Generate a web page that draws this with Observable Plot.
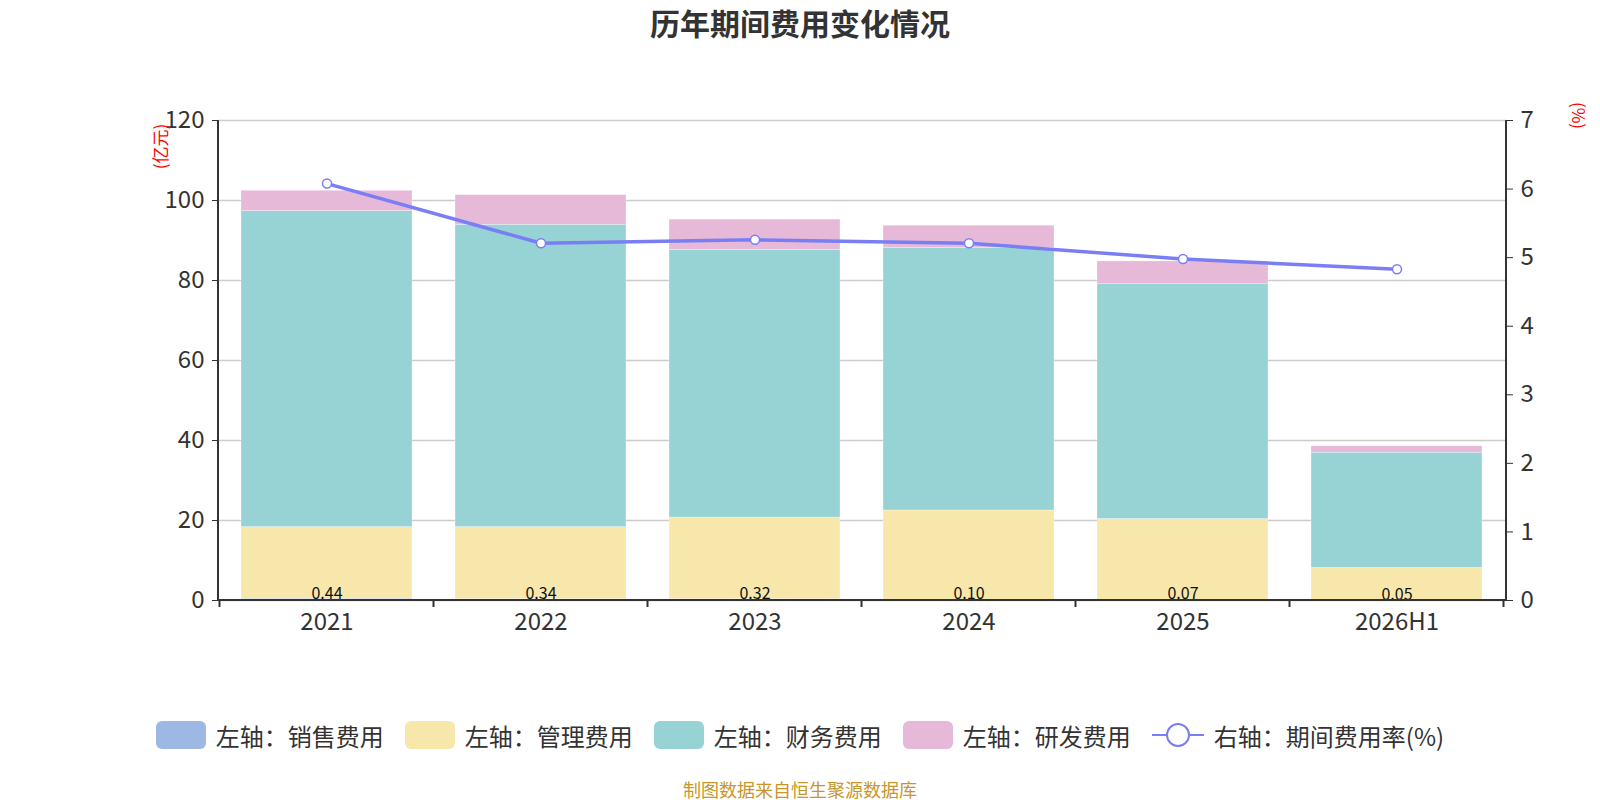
<!DOCTYPE html>
<html>
<head>
<meta charset="utf-8">
<script src="https://cdn.jsdelivr.net/npm/d3@7"></script>
<script src="https://cdn.jsdelivr.net/npm/@observablehq/plot@0.6"></script>
<style>
body{margin:0;background:#fff;font-family:"Noto Sans CJK SC","Noto Sans",sans-serif;}
#title{height:45px;line-height:45px;text-align:center;font-weight:bold;font-size:30px;color:#333;}
#chart svg{display:block;}
#legend{margin-top:71px;height:28px;display:flex;justify-content:center;align-items:center;gap:21px;font-size:24px;color:#333;}
.item{display:flex;align-items:center;gap:10px;}
.sw{width:50px;height:28px;border-radius:6px;}
#caption{margin-top:29px;text-align:center;font-size:18px;line-height:22px;color:#c8962a;}
</style>
</head>
<body>
<div id="title">历年期间费用变化情况</div>
<div id="chart"></div>
<div id="legend"></div>
<div id="caption">制图数据来自恒生聚源数据库</div>
<script>
const categories = ["2021","2022","2023","2024","2025","2026H1"];
const salesExp = [0.44,0.34,0.32,0.10,0.07,0.05];
const adminExp = [17.9,18.0,20.4,22.4,20.3,8.1];
const financeExp = [79.0,75.6,66.9,65.6,58.7,28.8];
const rndExp = [5.1,7.4,7.6,5.6,5.7,1.6];
const expenseRate = [6.08,5.21,5.26,5.21,4.98,4.83];
const seriesNames = ["左轴：销售费用","左轴：管理费用","左轴：财务费用","左轴：研发费用"];
const seriesColors = ["#9db8e2","#f8e7aa","#97d3d4","#e6b9d8"];
const lineName = "右轴：期间费用率(%)";
const lineColor = "#7a7ef5";
const leftTicks = [0,20,40,60,80,100,120];
const rightTicks = [0,1,2,3,4,5,6,7];

const leftMax = leftTicks[leftTicks.length-1];
const rightMax = rightTicks[rightTicks.length-1];
const k = leftMax / rightMax;

const seriesValues = [salesExp, adminExp, financeExp, rndExp];
const barData = [];
seriesNames.forEach((s, si) => {
  categories.forEach((c, ci) => barData.push({cat: c, series: s, value: seriesValues[si][ci]}));
});
const lineData = categories.map((c, i) => ({cat: c, rate: expenseRate[i]}));
const salesData = categories.map((c, i) => ({cat: c, v: salesExp[i]}));

function frameLines(index, scales, values, dim) {
  const ns = "http://www.w3.org/2000/svg";
  const g = document.createElementNS(ns, "g");
  const x = scales.x;
  const left = dim.marginLeft, right = dim.width - dim.marginRight;
  const top = dim.marginTop, bottom = dim.height - dim.marginBottom;
  const add = (x1,y1,x2,y2) => {
    const l = document.createElementNS(ns, "line");
    l.setAttribute("x1",x1);l.setAttribute("y1",y1);l.setAttribute("x2",x2);l.setAttribute("y2",y2);
    l.setAttribute("stroke","#333");l.setAttribute("stroke-width","2");
    g.appendChild(l);
  };
  add(left, top, left, bottom+1);
  add(right, top, right, bottom+1);
  add(left, bottom, right, bottom);
  const step = x.step ? x.step() : (x(categories[1]) - x(categories[0]));
  const bw = x.bandwidth ? x.bandwidth() : 0;
  categories.forEach(c => {
    const bx = x(c) + bw/2 - step/2;
    add(bx, bottom, bx, bottom+7);
  });
  const last = x(categories[categories.length-1]) + bw/2 + step/2;
  add(last, bottom, last, bottom+7);
  return g;
}

const plot = Plot.plot({
  width: 1600,
  height: 605,
  marginTop: 75,
  marginBottom: 50,
  marginLeft: 218,
  marginRight: 94,
  style: {fontFamily: '"Noto Sans CJK SC","Noto Sans",sans-serif', color: "#333", background: "#fff"},
  x: {domain: categories, paddingInner: 0.2, paddingOuter: 0.1, label: null},
  y: {domain: [0, leftMax], label: null},
  color: {domain: seriesNames, range: seriesColors},
  marks: [
    Plot.gridY(leftTicks, {stroke: "#ccc", strokeOpacity: 1, strokeWidth: 1.5}),
    Plot.barY(barData, {x: "cat", y: "value", fill: "series", stroke: "#fff", strokeOpacity: 0.5, strokeWidth: 0.6}),
    Plot.text(salesData, {x: "cat", y: d => d.v / 2, text: d => d.v.toFixed(2), fontSize: 16, dy: -6, fill: "#111", clip: true}),
    Plot.line(lineData, {x: "cat", y: d => d.rate * k, stroke: lineColor, strokeWidth: 3.5}),
    Plot.dot(lineData, {x: "cat", y: d => d.rate * k, r: 4.5, fill: "#fff", stroke: lineColor, strokeWidth: 1.5}),
    Plot.axisY(leftTicks, {anchor: "left", tickSize: 6, tickPadding: 8, fontSize: 24, label: null}),
    Plot.axisY(rightTicks.map(t => t * k), {anchor: "right", tickSize: 6, tickPadding: 8, fontSize: 24, tickFormat: d => String(Math.round(d / k)), label: null}),
    Plot.axisX({tickSize: 0, tickPadding: 12, fontSize: 24, label: null}),
    frameLines,
    Plot.text(["(亿元)"], {frameAnchor: "top-left", textAnchor: "middle", rotate: -90, dx: -64, dy: 26, fill: "red", fontSize: 17}),
    Plot.text(["(%)"], {frameAnchor: "top-right", textAnchor: "middle", rotate: 90, dx: 78, dy: -5, fill: "red", fontSize: 17})
  ]
});
document.getElementById("chart").appendChild(plot);

const legend = document.getElementById("legend");
seriesNames.forEach((s, i) => {
  const it = document.createElement("div"); it.className = "item";
  const sw = document.createElement("div"); sw.className = "sw"; sw.style.background = seriesColors[i];
  const t = document.createElement("span"); t.textContent = s;
  it.appendChild(sw); it.appendChild(t); legend.appendChild(it);
});
{
  const it = document.createElement("div"); it.className = "item";
  it.innerHTML = `<svg width="52" height="28"><line x1="0" y1="14" x2="52" y2="14" stroke="${lineColor}" stroke-width="2"/><circle cx="26" cy="14" r="11" fill="#fff" stroke="${lineColor}" stroke-width="2"/></svg>`;
  const t = document.createElement("span"); t.textContent = lineName;
  it.appendChild(t); legend.appendChild(it);
}
</script>
</body>
</html>
